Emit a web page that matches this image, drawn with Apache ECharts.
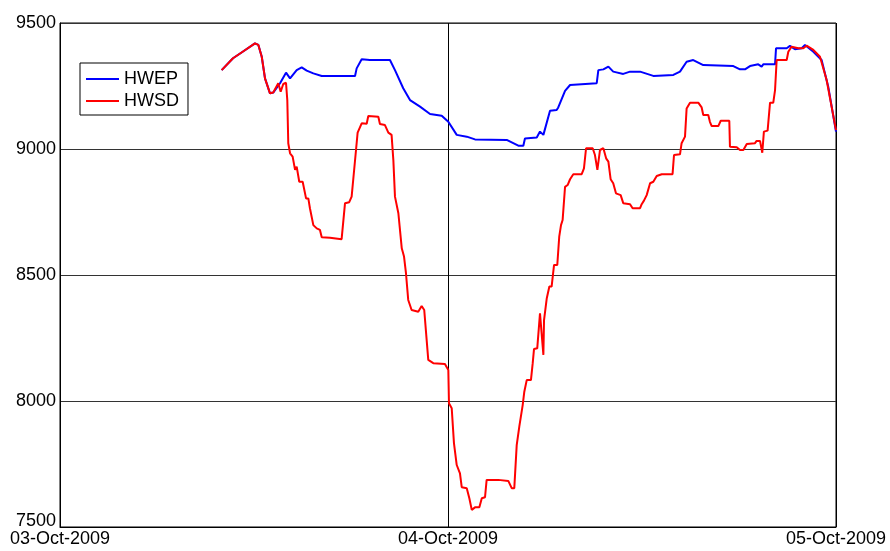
<!DOCTYPE html>
<html>
<head>
<meta charset="utf-8">
<script src="https://cdn.jsdelivr.net/npm/echarts@6/dist/echarts.min.js"></script>
<style>
html,body{margin:0;padding:0;background:#fff;}
#chart{width:890px;height:551px;}
</style>
</head>
<body>
<div id="chart"></div>
<script>
// x values are hours since 03-Oct-2009 00:00
const xTickLabels = ['03-Oct-2009', '04-Oct-2009', '05-Oct-2009'];
const yTicks = [7500, 8000, 8500, 9000, 9500];

const hwepHours = [10.0,10.7,11.3,12.06,12.27,12.48,12.68,12.99,13.19,13.61,13.98,14.23,14.64,14.95,15.26,15.67,16.19,18.25,18.35,18.66,19.17,20.41,20.72,21.23,21.65,22.27,22.89,23.61,24.02,24.54,25.16,25.67,27.63,28.35,28.66,28.76,29.49,29.69,29.9,30.31,30.72,30.82,31.24,31.55,33.2,33.3,33.61,33.92,34.22,34.84,35.26,35.88,36.7,37.94,38.35,38.76,39.17,39.79,41.65,42.06,42.37,42.68,43.19,43.3,43.4,43.5,44.23,44.29,44.95,45.15,45.46,45.88,46.08,46.6,47.11,47.52,48.0];
const hwepValues = [9313,9360,9386,9419,9413,9366,9280,9221,9224,9261,9303,9280,9313,9324,9311,9300,9290,9290,9320,9356,9353,9353,9313,9241,9194,9168,9139,9132,9108,9056,9049,9038,9036,9013,9013,9042,9046,9069,9056,9152,9155,9165,9231,9254,9261,9313,9316,9327,9307,9298,9307,9307,9290,9294,9307,9346,9353,9333,9329,9316,9316,9329,9336,9340,9327,9336,9336,9400,9400,9409,9396,9400,9413,9386,9353,9247,9069];

const hwsdHours = [10.0,10.7,11.3,12.06,12.27,12.48,12.68,12.99,13.19,13.5,13.65,13.81,13.98,14.06,14.12,14.23,14.39,14.54,14.64,14.8,15.01,15.22,15.36,15.46,15.57,15.67,15.88,16.08,16.19,16.7,16.81,17.42,17.63,17.89,18.04,18.31,18.41,18.66,18.97,19.07,19.69,19.79,20.1,20.31,20.51,20.62,20.72,20.93,21.14,21.28,21.4,21.54,21.75,22.16,22.37,22.53,22.78,23.09,23.81,24.02,24.06,24.23,24.37,24.54,24.74,24.85,25.16,25.32,25.47,25.67,25.94,26.09,26.29,26.39,27.11,27.22,27.73,27.94,28.1,28.25,28.41,28.5,28.62,28.72,28.87,29.13,29.24,29.32,29.52,29.69,29.9,29.94,30.11,30.27,30.41,30.56,30.76,30.88,30.99,31.09,31.24,31.4,31.55,31.75,32.27,32.41,32.54,32.95,33.09,33.24,33.4,33.61,33.78,33.92,34.06,34.22,34.39,34.68,34.84,35.26,35.42,35.88,35.98,36.12,36.29,36.5,36.7,36.91,37.22,37.89,37.98,38.35,38.45,38.66,38.76,38.97,39.48,39.69,39.79,40.1,40.2,40.31,40.72,40.87,41.4,41.44,41.86,42.06,42.27,42.48,42.99,43.09,43.3,43.44,43.54,43.77,43.92,44.12,44.23,44.33,44.95,45.05,45.25,45.67,45.98,46.18,46.6,47.01,47.42,48.0];
const hwsdValues = [9313,9360,9386,9419,9413,9366,9280,9221,9224,9261,9227,9258,9263,9194,9023,8983,8970,8917,8930,8870,8870,8804,8804,8765,8762,8698,8685,8679,8650,8648,8642,8642,8785,8789,8811,8996,9065,9102,9100,9131,9128,9099,9095,9065,9056,8956,8811,8745,8606,8573,8507,8401,8361,8354,8377,8361,8163,8150,8147,8123,7991,7971,7832,7746,7713,7658,7654,7614,7568,7578,7578,7614,7618,7687,7687,7683,7683,7654,7654,7825,7898,7905,7984,8037,8083,8083,8150,8206,8209,8348,8183,8321,8408,8454,8454,8540,8540,8652,8698,8718,8850,8857,8880,8900,8900,8923,9003,9003,8976,8917,8996,9003,8963,8950,8880,8864,8824,8817,8785,8781,8765,8765,8781,8795,8817,8864,8870,8893,8900,8900,8976,8979,9023,9049,9161,9184,9184,9165,9135,9135,9108,9091,9091,9112,9112,9009,9007,8996,8996,9020,9023,9032,9032,8985,9069,9073,9184,9184,9234,9353,9353,9386,9406,9400,9400,9410,9393,9366,9274,9075];

function pairs(xs, ys) { return xs.map((x, i) => [x, ys[i]]); }

const chart = echarts.init(document.getElementById('chart'));
const font = 'Liberation Sans, Arial, sans-serif';
chart.setOption({
  animation: false,
  backgroundColor: '#fff',
  grid: { left: 60, right: 54, top: 23, bottom: 24, show: true, borderColor: '#000', borderWidth: 1, backgroundColor: 'transparent' },
  legend: {
    orient: 'vertical', left: 80, top: 63,
    backgroundColor: '#fff', borderColor: '#000', borderWidth: 1,
    padding: [7, 9, 5, 6], itemGap: 4, itemWidth: 33, itemHeight: 2,
    icon: 'rect',
    textStyle: { fontFamily: font, fontSize: 18, color: '#000', padding: [0, 0, 0, 0], height: 18, lineHeight: 18 },
    data: ['HWEP', 'HWSD']
  },
  xAxis: {
    type: 'value', min: 0, max: 48, interval: 24,
    axisLine: { show: true, lineStyle: { color: '#000', width: 1 } },
    axisTick: { show: false },
    splitLine: { show: true, lineStyle: { color: '#000', width: 1 } },
    axisLabel: {
      fontFamily: font, fontSize: 18, color: '#000', margin: 3,
      formatter: v => xTickLabels[Math.round(v / 24)] || ''
    }
  },
  yAxis: {
    type: 'value', min: yTicks[0], max: yTicks[yTicks.length - 1], interval: 500,
    axisLine: { show: true, lineStyle: { color: '#000', width: 1 } },
    axisTick: { show: false },
    splitLine: { show: true, lineStyle: { color: '#333', width: 1 } },
    axisLabel: {
      fontFamily: font, fontSize: 18, color: '#000', margin: 4,
      formatter: v => v === yTicks[0] ? '{low|' + v + '}' : String(v),
      rich: { low: { fontFamily: font, fontSize: 18, color: '#000', padding: [0, 0, 12, 0] } }
    }
  },
  series: [
    { name: 'HWEP', type: 'line', data: pairs(hwepHours, hwepValues), symbol: 'none', lineStyle: { color: '#0000ff', width: 2 }, itemStyle: { color: '#0000ff' } },
    { name: 'HWSD', type: 'line', data: pairs(hwsdHours, hwsdValues), symbol: 'none', lineStyle: { color: '#ff0000', width: 2 }, itemStyle: { color: '#ff0000' } }
  ]
});
</script>
</body>
</html>
